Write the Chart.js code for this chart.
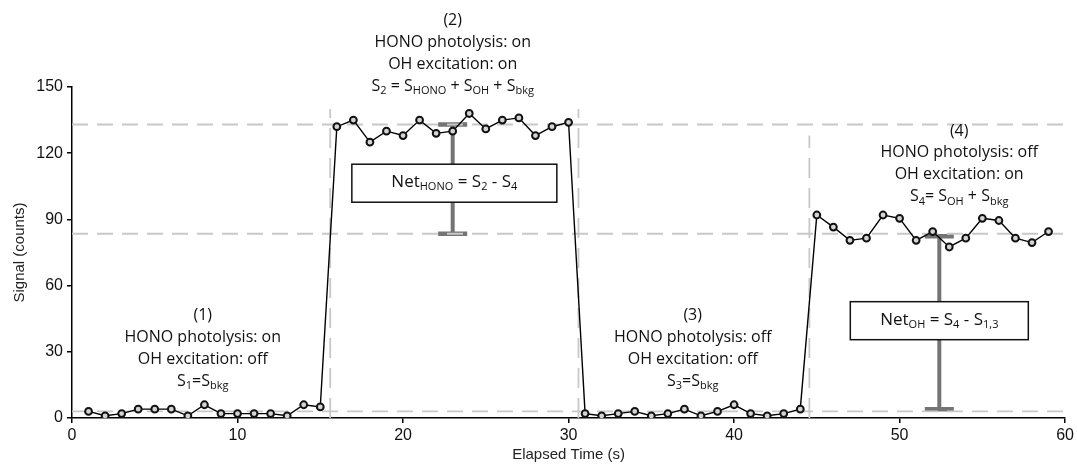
<!DOCTYPE html>
<html>
<head>
<meta charset="utf-8">
<script src="https://cdn.jsdelivr.net/npm/chart.js@4.4.0/dist/chart.umd.min.js"></script>
<style>
  html, body { margin: 0; padding: 0; background: #fff; }
  #wrap { width: 1077px; height: 467px; }
</style>
</head>
<body>
<div id="wrap"><canvas id="signalChart"></canvas></div>
<script>
// measured signal, one point per second
var times = [1, 2, 3, 4, 5, 6, 7, 8, 9, 10, 11, 12, 13, 14, 15,
    16, 17, 18, 19, 20, 21, 22, 23, 24, 25, 26, 27, 28, 29, 30,
    31, 32, 33, 34, 35, 36, 37, 38, 39, 40, 41, 42, 43, 44,
    45, 46, 47, 48, 49, 50, 51, 52, 53, 54, 55, 56, 57, 58, 59];
var signal = [3, 1, 2, 4, 4, 4, 1, 6, 2, 2, 2, 2, 1, 6, 5,
    132, 135, 125, 130, 128, 135, 129, 130, 138, 131, 135, 136, 128, 132, 134,
    2, 1, 2, 3, 1, 2, 4, 1, 3, 6, 2, 1, 2, 4,
    92, 86.5, 80.5, 81.5, 92, 90.5, 80.5, 84.5, 77.5, 81.5, 90.5, 89.5, 81.5, 79.5, 84.5];

// dashed guide lines
var levelY = [133, 83.5, 3];
var switchX = [15.6, 30.6, 44.55];
var switchTop = [140, 140, 128];

var xTicks = [0, 10, 20, 30, 40, 50, 60];
var yTicks = [0, 30, 60, 90, 120, 150];

// difference bars
var barX = [23, 52.4];
var barTop = [133, 82.4];
var barBottom = [83.5, 4];

// boxed labels
var boxX = [23.1, 52.4];
var boxY = [106.4, 44.1];
var boxText = ['Net_{HONO} = S_{2} - S_{4}', 'Net_{OH} = S_{4} - S_{1,3}'];

// phase labels (x centre, y of first line)
var phaseX = [7.9, 23.0, 37.5, 53.6];
var phaseY = [46.4, 180.1, 46.4, 130];
var phaseLines = [
    ['(1)', 'HONO photolysis: on', 'OH excitation: off', 'S_{1}=S_{bkg}'],
    ['(2)', 'HONO photolysis: on', 'OH excitation: on', 'S_{2} = S_{HONO} + S_{OH} + S_{bkg}'],
    ['(3)', 'HONO photolysis: off', 'OH excitation: off', 'S_{3}=S_{bkg}'],
    ['(4)', 'HONO photolysis: off', 'OH excitation: on', 'S_{4}= S_{OH} + S_{bkg}']
];

var FONT = '"Open Sans", "DejaVu Sans", sans-serif';

function parseRuns(s) {
    var runs = [];
    var re = /_\{([^}]*)\}/g, last = 0, m;
    while ((m = re.exec(s)) !== null) {
        if (m.index > last) runs.push({ t: s.slice(last, m.index), sub: false });
        runs.push({ t: m[1], sub: true });
        last = re.lastIndex;
    }
    if (last < s.length) runs.push({ t: s.slice(last), sub: false });
    return runs;
}

function drawRich(ctx, s, cx, cy, size) {
    var runs = parseRuns(s);
    var subSize = Math.round(size * 0.66);
    var total = 0;
    runs.forEach(function (r) {
        ctx.font = (r.sub ? subSize : size) + 'px ' + FONT;
        r.w = ctx.measureText(r.t).width;
        total += r.w;
    });
    var x = cx - total / 2;
    ctx.textBaseline = 'middle';
    ctx.textAlign = 'left';
    runs.forEach(function (r) {
        ctx.font = (r.sub ? subSize : size) + 'px ' + FONT;
        ctx.fillText(r.t, x, r.sub ? cy + 5 : cy);
        x += r.w;
    });
}

var datasets = [{
    label: 'signal',
    data: times.map(function (t, i) { return { x: t, y: signal[i] }; }),
    borderColor: '#000',
    borderWidth: 1.4,
    pointRadius: 3.4,
    pointBorderWidth: 2,
    pointBorderColor: '#111',
    pointBackgroundColor: '#d4d4d4',
    tension: 0,
    order: 0
}];
levelY.forEach(function (v) {
    datasets.push({
        data: [{ x: 0, y: v }, { x: 60, y: v }],
        borderColor: '#c8c8c8', borderWidth: 1.8, borderDash: [16, 9],
        pointRadius: 0, order: 2
    });
});
switchX.forEach(function (v, i) {
    datasets.push({
        data: [{ x: v, y: 0 }, { x: v, y: switchTop[i] }],
        borderColor: '#c8c8c8', borderWidth: 1.8, borderDash: [20, 10],
        pointRadius: 0, order: 2
    });
});

var barsPlugin = {
    id: 'bars',
    beforeDatasetsDraw: function (chart) {
        var ctx = chart.ctx, xs = chart.scales.x, ys = chart.scales.y;
        ctx.save();
        ctx.strokeStyle = '#747474';
        barX.forEach(function (v, i) {
            var px = xs.getPixelForValue(v);
            var t = ys.getPixelForValue(barTop[i]);
            var b = ys.getPixelForValue(barBottom[i]);
            ctx.lineWidth = 4;
            ctx.beginPath();
            ctx.moveTo(px, t); ctx.lineTo(px, b);
            ctx.stroke();
            ctx.lineWidth = 4.5;
            ctx.beginPath();
            ctx.moveTo(px - 14.5, t); ctx.lineTo(px + 14.5, t);
            ctx.moveTo(px - 14.5, b); ctx.lineTo(px + 14.5, b);
            ctx.stroke();
        });
        ctx.restore();
    },
    afterDatasetsDraw: function (chart) {
        var ctx = chart.ctx, xs = chart.scales.x, ys = chart.scales.y;
        ctx.save();
        var boxW = [205, 178];
        boxX.forEach(function (v, i) {
            var cx = xs.getPixelForValue(v);
            var cy = ys.getPixelForValue(boxY[i]);
            ctx.fillStyle = '#fff';
            ctx.fillRect(cx - boxW[i] / 2, cy - 19, boxW[i], 38);
            ctx.strokeStyle = '#111';
            ctx.lineWidth = 1.5;
            ctx.strokeRect(cx - boxW[i] / 2, cy - 19, boxW[i], 38);
            ctx.fillStyle = '#111';
            drawRich(ctx, boxText[i], cx, cy - 1, 17);
        });
        ctx.fillStyle = '#111';
        phaseX.forEach(function (v, i) {
            var cx = xs.getPixelForValue(v);
            var cy = ys.getPixelForValue(phaseY[i]);
            phaseLines[i].forEach(function (line, k) {
                drawRich(ctx, line, cx, cy + k * 21.8, 16);
            });
        });
        ctx.restore();
    }
};

var ctx = document.getElementById('signalChart');
var myChart = new Chart(ctx, {
    type: 'line',
    data: { datasets: datasets },
    options: {
        responsive: true,
        maintainAspectRatio: false,
        animation: false,
        layout: { padding: { top: 87, right: 10, left: 0, bottom: 0 } },
        plugins: { legend: { display: false }, tooltip: { enabled: false } },
        scales: {
            x: {
                type: 'linear',
                min: 0,
                max: 60,
                afterBuildTicks: function (s) { s.ticks = xTicks.map(function (v) { return { value: v }; }); },
                afterFit: function (s) { s.height = 49; },
                grid: { display: true, drawOnChartArea: false, drawTicks: true, tickLength: 5, color: '#000', lineWidth: 1.5 },
                border: { color: '#000', width: 1.5 },
                ticks: { color: '#111', padding: 3, font: { family: 'Liberation Sans, Arial, sans-serif', size: 16 } },
                title: { display: true, text: 'Elapsed Time (s)', color: '#222', padding: { top: 0, bottom: 3 },
                    font: { family: 'Liberation Sans, Arial, sans-serif', size: 15 } }
            },
            y: {
                type: 'linear',
                min: 0,
                max: 150,
                afterBuildTicks: function (s) { s.ticks = yTicks.map(function (v) { return { value: v }; }); },
                afterFit: function (s) { s.width = 72; },
                grid: { display: true, drawOnChartArea: false, drawTicks: true, tickLength: 5, color: '#000', lineWidth: 1.5 },
                border: { color: '#000', width: 1.5 },
                ticks: { color: '#111', padding: 4, font: { family: 'Liberation Sans, Arial, sans-serif', size: 16 } },
                title: { display: true, text: 'Signal (counts)', color: '#222', padding: { top: 11, bottom: 0 },
                    font: { family: 'Liberation Sans, Arial, sans-serif', size: 15 } }
            }
        }
    },
    plugins: [barsPlugin]
});
</script>
</body>
</html>
